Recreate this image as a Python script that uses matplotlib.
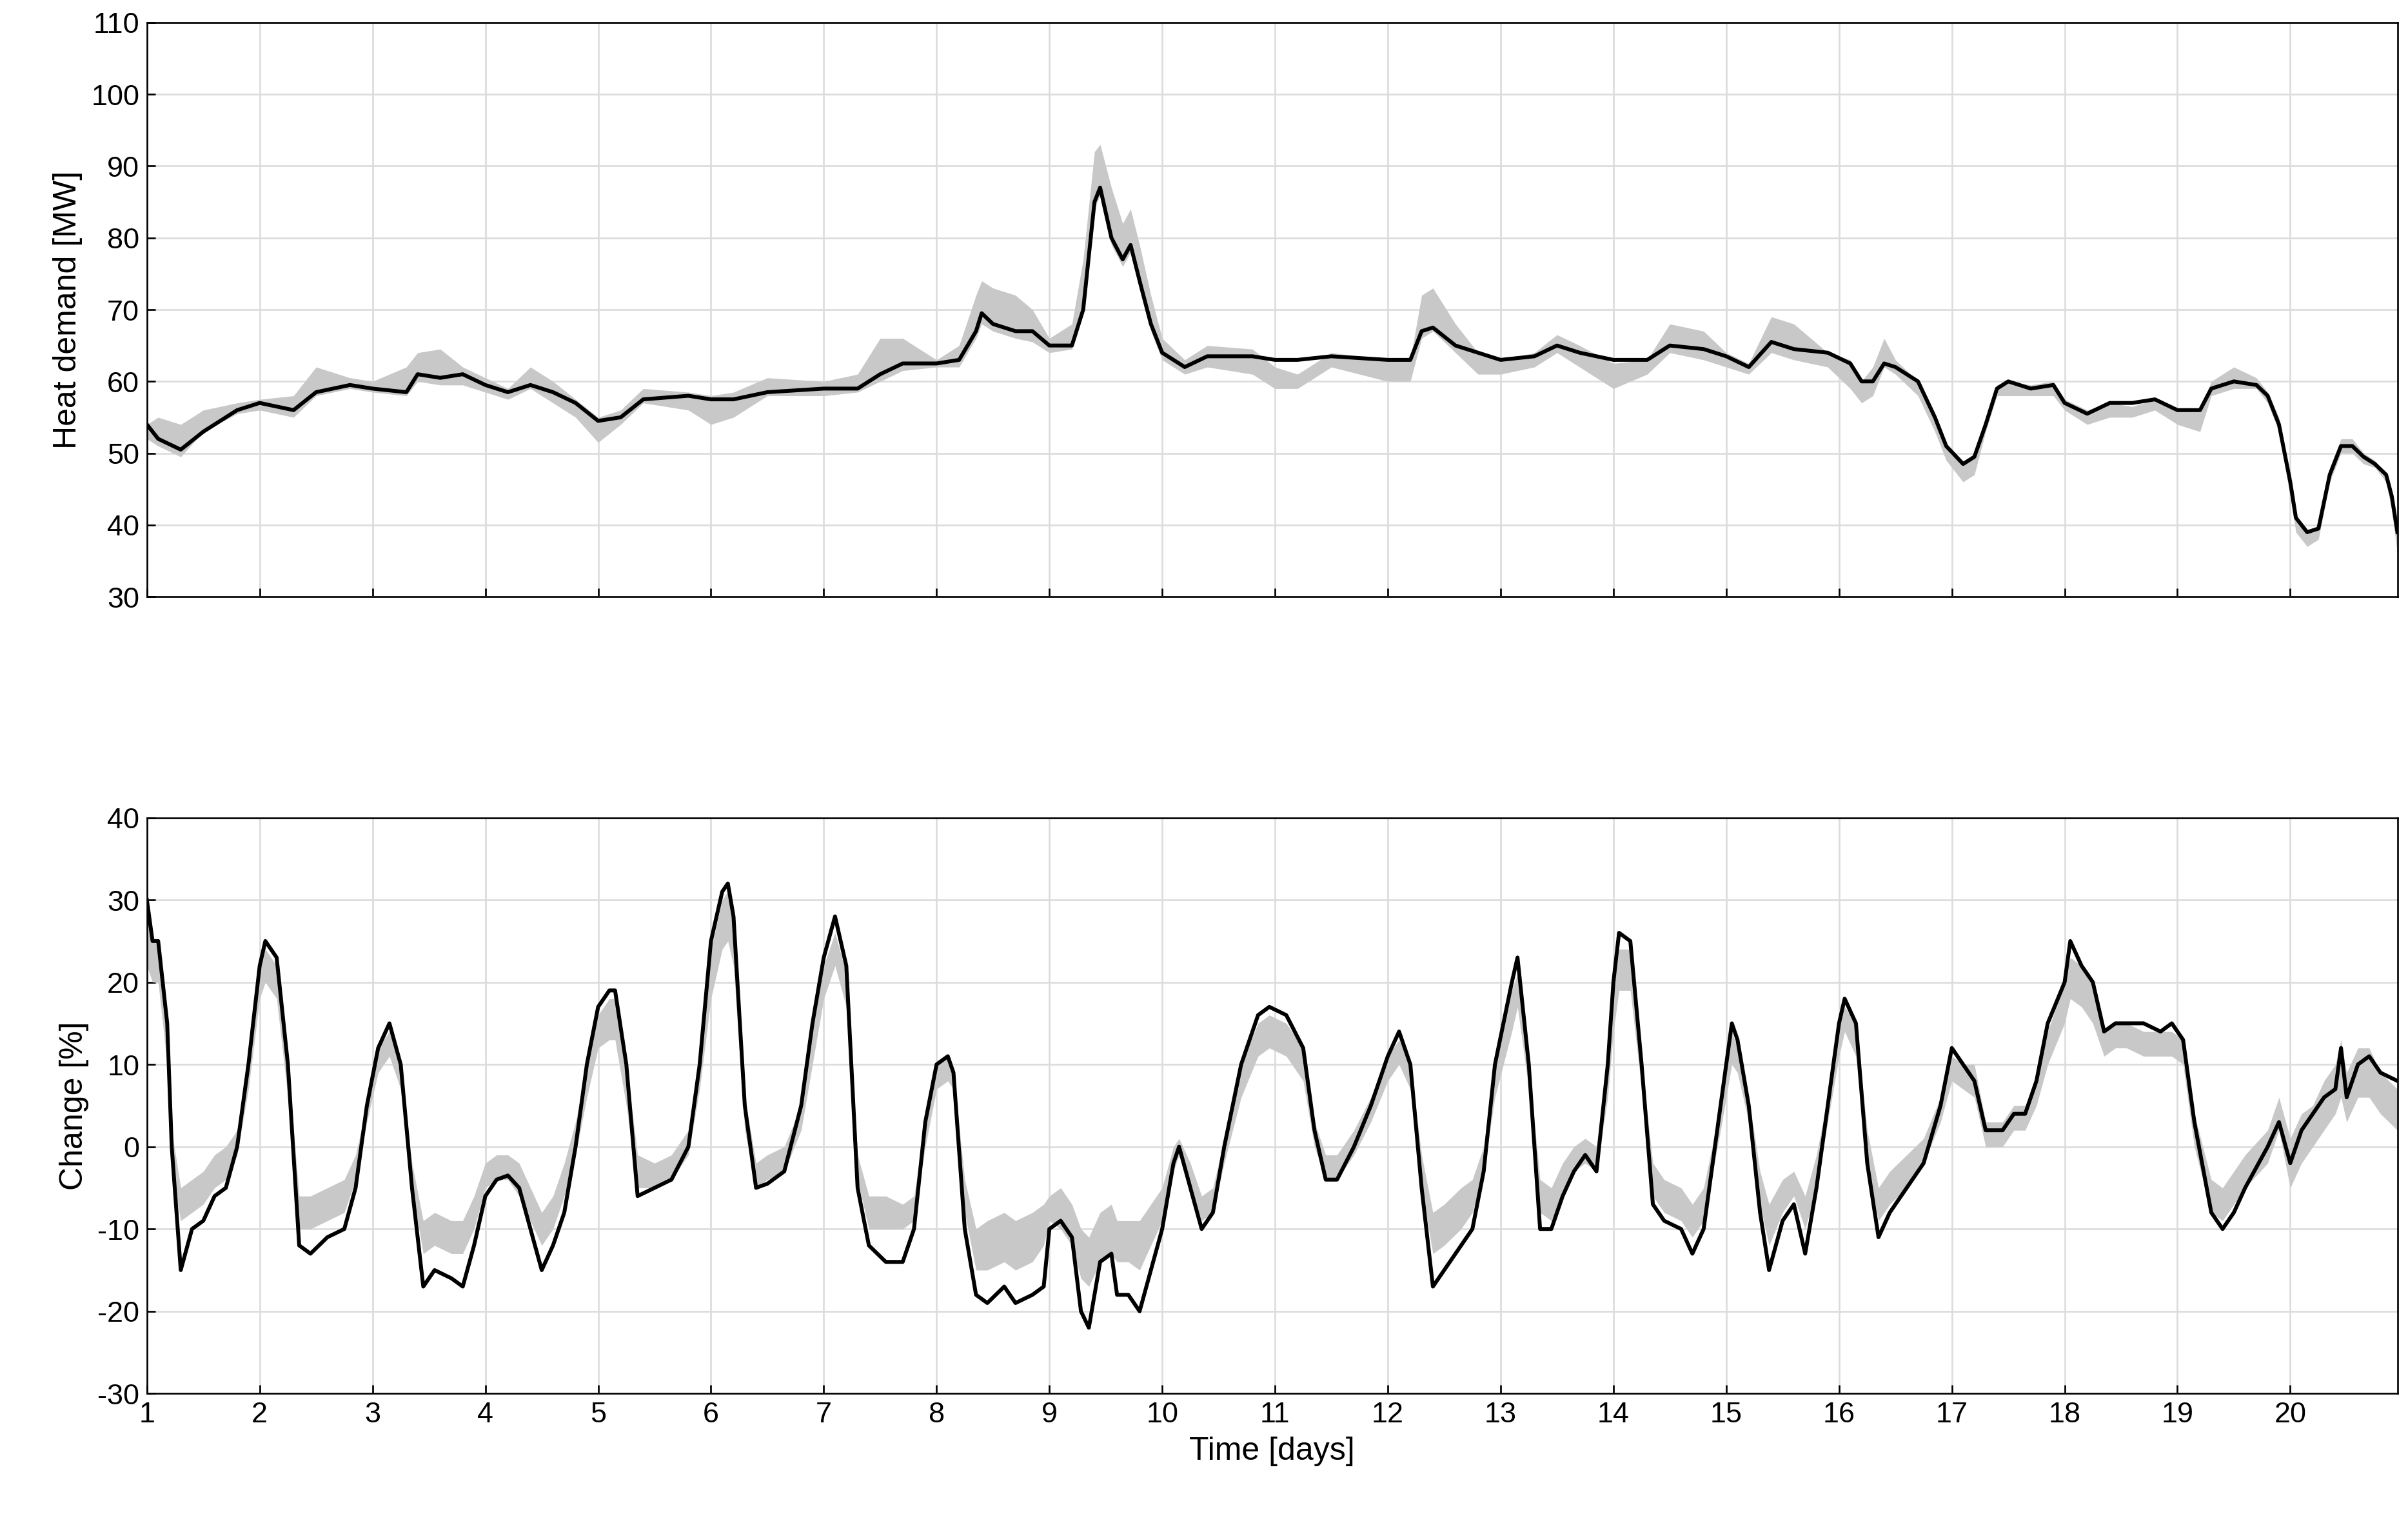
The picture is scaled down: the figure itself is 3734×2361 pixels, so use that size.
import numpy as np
import matplotlib
matplotlib.use("Agg")
import matplotlib.pyplot as plt

plt.rcParams['font.family'] = ['Liberation Sans', 'DejaVu Sans']
plt.rcParams['axes.unicode_minus'] = False

# ---- top panel: heat demand [MW] ----
t_top = [1.0, 1.1, 1.3, 1.5, 1.8, 2.0, 2.3, 2.5, 2.8, 3.0, 3.3, 3.4, 3.6, 3.8, 4.0, 4.2, 4.4, 4.6, 4.8, 5.0,
         5.2, 5.4, 5.8, 6.0, 6.2, 6.5, 7.0, 7.3, 7.5, 7.7, 8.0, 8.2, 8.35, 8.4, 8.5, 8.7, 8.85, 9.0, 9.2, 9.3,
         9.4, 9.45, 9.55, 9.65, 9.72, 9.8, 9.9, 10.0, 10.2, 10.4, 10.8, 11.0, 11.2, 11.5, 12.0, 12.2, 12.3, 12.4, 12.6, 12.8,
         13.0, 13.3, 13.5, 13.7, 14.0, 14.3, 14.5, 14.8, 15.0, 15.2, 15.4, 15.6, 15.9, 16.1, 16.2, 16.3, 16.4, 16.5, 16.7, 16.85,
         16.95, 17.1, 17.2, 17.3, 17.4, 17.5, 17.7, 17.9, 18.0, 18.2, 18.4, 18.6, 18.8, 19.0, 19.2, 19.3, 19.5, 19.7, 19.8, 19.9,
         20.0, 20.05, 20.15, 20.25, 20.35, 20.45, 20.55, 20.65, 20.75, 20.85, 20.9, 20.95]
heat = [54, 52, 50.5, 53, 56, 57, 56, 58.5, 59.5, 59, 58.5, 61, 60.5, 61, 59.5, 58.5, 59.5, 58.5, 57, 54.5,
        55, 57.5, 58, 57.5, 57.5, 58.5, 59, 59, 61, 62.5, 62.5, 63, 67, 69.5, 68, 67, 67, 65, 65, 70,
        85, 87, 80, 77, 79, 74, 68, 64, 62, 63.5, 63.5, 63, 63, 63.5, 63, 63, 67, 67.5, 65, 64,
        63, 63.5, 65, 64, 63, 63, 65, 64.5, 63.5, 62, 65.5, 64.5, 64, 62.5, 60, 60, 62.5, 62, 60, 55,
        51, 48.5, 49.5, 54, 59, 60, 59, 59.5, 57, 55.5, 57, 57, 57.5, 56, 56, 59, 60, 59.5, 58, 54,
        46, 41, 39, 39.5, 47, 51, 51, 49.5, 48.5, 47, 44, 39]
heat_lo = [52, 51, 49.5, 53, 55.5, 56, 55, 58, 59, 58.5, 58, 60, 59.5, 59.5, 58.5, 57.5, 59, 57, 55, 51.5,
           54, 57, 56, 54, 55, 58, 58, 58.5, 60, 61.5, 62, 62, 66, 68, 67, 66, 65.5, 64, 64.5, 70,
           84, 86, 79, 76, 78, 73, 67, 63, 61, 62, 61, 59, 59, 62, 60, 60, 66, 67, 64, 61,
           61, 62, 64, 62, 59, 61, 64, 63, 62, 61, 64, 63, 62, 59, 57, 58, 62, 61, 58, 53,
           49, 46, 47, 53, 58, 58, 58, 58, 56, 54, 55, 55, 56, 54, 53, 58, 59, 59, 57, 53,
           44, 39, 37, 38, 46, 50, 50, 48.5, 48, 46, 42, 36]
heat_hi = [54, 55, 54, 56, 57, 57.5, 58, 62, 60.5, 60, 62, 64, 64.5, 62, 60.5, 59, 62, 60, 57.5, 55,
           56, 59, 58.5, 58, 58.5, 60.5, 60, 61, 66, 66, 63, 65, 72, 74, 73, 72, 70, 66, 68, 77,
           92, 93, 87, 82, 84, 79, 72, 66, 63, 65, 64.5, 62, 61, 64, 63, 63, 72, 73, 68, 64,
           63, 64, 66.5, 65, 62.5, 63, 68, 67, 64, 62.5, 69, 68, 64, 63, 60, 62, 66, 63, 60, 55,
           51, 48.5, 49.5, 54.5, 59.5, 60, 59.5, 60, 57.5, 56, 57, 56.5, 57.5, 56, 56, 60, 62, 60.5, 58.5, 55,
           46, 41, 39, 40, 48, 52, 52, 50, 49, 47, 44, 39]

# ---- bottom panel: change [%] ----
t_bot = [1.0, 1.05, 1.1, 1.18, 1.22, 1.3, 1.4, 1.5, 1.6, 1.7, 1.8, 1.9, 2.0, 2.05, 2.15, 2.25, 2.35, 2.45, 2.6, 2.75,
         2.85, 2.95, 3.05, 3.15, 3.25, 3.35, 3.45, 3.55, 3.7, 3.8, 3.9, 4.0, 4.1, 4.2, 4.3, 4.4, 4.5, 4.6, 4.7, 4.8,
         4.9, 5.0, 5.1, 5.15, 5.25, 5.35, 5.5, 5.65, 5.8, 5.9, 6.0, 6.1, 6.15, 6.2, 6.3, 6.4, 6.5, 6.65, 6.8, 6.9,
         7.0, 7.1, 7.2, 7.3, 7.4, 7.55, 7.7, 7.8, 7.9, 8.0, 8.1, 8.15, 8.25, 8.35, 8.45, 8.6, 8.7, 8.85, 8.95, 9.0,
         9.1, 9.2, 9.28, 9.35, 9.45, 9.55, 9.6, 9.7, 9.8, 9.9, 10.0, 10.1, 10.15, 10.25, 10.35, 10.45, 10.55, 10.7, 10.85, 10.95,
         11.1, 11.25, 11.35, 11.45, 11.55, 11.7, 11.85, 12.0, 12.1, 12.2, 12.3, 12.4, 12.5, 12.65, 12.75, 12.85, 12.95, 13.1, 13.15, 13.25,
         13.35, 13.45, 13.55, 13.65, 13.75, 13.85, 13.95, 14.0, 14.05, 14.15, 14.25, 14.35, 14.45, 14.6, 14.7, 14.8, 14.95, 15.05, 15.1, 15.2,
         15.3, 15.38, 15.5, 15.6, 15.7, 15.8, 15.9, 16.0, 16.05, 16.15, 16.25, 16.35, 16.45, 16.6, 16.75, 16.9, 17.0, 17.1, 17.2, 17.3,
         17.45, 17.55, 17.65, 17.75, 17.85, 18.0, 18.05, 18.15, 18.25, 18.35, 18.45, 18.55, 18.7, 18.85, 18.95, 19.05, 19.15, 19.3, 19.4, 19.5,
         19.6, 19.8, 19.9, 20.0, 20.1, 20.2, 20.3, 20.4, 20.45, 20.5, 20.6, 20.7, 20.8, 20.95]
change = [30, 25, 25, 15, 0, -15, -10, -9, -6, -5, 0, 10, 22, 25, 23, 10, -12, -13, -11, -10,
          -5, 5, 12, 15, 10, -5, -17, -15, -16, -17, -12, -6, -4, -3.5, -5, -10, -15, -12, -8, 0,
          10, 17, 19, 19, 10, -6, -5, -4, 0, 10, 25, 31, 32, 28, 5, -5, -4.5, -3, 5, 15,
          23, 28, 22, -5, -12, -14, -14, -10, 3, 10, 11, 9, -10, -18, -19, -17, -19, -18, -17, -10,
          -9, -11, -20, -22, -14, -13, -18, -18, -20, -15, -10, -2, 0, -5, -10, -8, 0, 10, 16, 17,
          16, 12, 2, -4, -4, 0, 5, 11, 14, 10, -5, -17, -15, -12, -10, -3, 10, 20, 23, 10,
          -10, -10, -6, -3, -1, -3, 10, 20, 26, 25, 10, -7, -9, -10, -13, -10, 5, 15, 13, 5,
          -8, -15, -9, -7, -13, -5, 5, 15, 18, 15, -2, -11, -8, -5, -2, 5, 12, 10, 8, 2,
          2, 4, 4, 8, 15, 20, 25, 22, 20, 14, 15, 15, 15, 14, 15, 13, 3, -8, -10, -8,
          -5, 0, 3, -2, 2, 4, 6, 7, 12, 6, 10, 11, 9, 8]
change_lo = [22, 20, 20, 10, -3, -9, -8, -7, -5, -4, -1, 7, 18, 20, 18, 6, -10, -10, -9, -8,
             -4, 3, 9, 11, 7, -5, -13, -12, -13, -13, -10, -5, -4, -4, -6, -9, -12, -10, -6, -1,
             6, 12, 13, 13, 5, -5, -5, -4, -1, 7, 18, 24, 25, 22, 2, -5, -4, -3, 2, 10,
             18, 22, 17, -4, -10, -10, -10, -9, 0, 7, 8, 7, -8, -15, -15, -14, -15, -14, -12, -9,
             -10, -12, -16, -17, -14, -13, -14, -14, -15, -12, -9, -3, -1, -5, -9, -8, -2, 6, 11, 12,
             11, 8, 0, -4, -4, -1, 3, 8, 10, 7, -5, -13, -12, -10, -8, -3, 6, 14, 17, 7,
             -8, -9, -6, -3, -2, -3, 6, 14, 19, 19, 7, -6, -8, -9, -11, -9, 2, 10, 9, 3,
             -7, -12, -8, -6, -10, -5, 3, 11, 14, 11, -2, -9, -7, -5, -2, 3, 8, 7, 6, 0,
             0, 2, 2, 5, 10, 15, 18, 17, 15, 11, 12, 12, 11, 11, 11, 10, 0, -8, -9, -7,
             -5, -2, 2, -5, -2, 0, 2, 4, 6, 3, 6, 6, 4, 2]
change_hi = [30, 25, 25, 15, 2, -5, -4, -3, -1, 0, 2, 10, 22, 24, 22, 10, -6, -6, -5, -4,
             -1, 5, 12, 14, 10, -2, -9, -8, -9, -9, -6, -2, -1, -1, -2, -5, -8, -6, -2, 3,
             10, 16, 18, 18, 10, -1, -2, -1, 2, 10, 24, 30, 31, 27, 6, -2, -1, 0, 5, 14,
             22, 26, 21, -1, -6, -6, -7, -6, 3, 10, 11, 9, -4, -10, -9, -8, -9, -8, -7, -6,
             -5, -7, -10, -11, -8, -7, -9, -9, -9, -7, -5, 0, 1, -2, -6, -5, 1, 10, 15, 16,
             15, 12, 3, -1, -1, 2, 6, 11, 13, 10, -1, -8, -7, -5, -4, 0, 10, 19, 21, 10,
             -4, -5, -2, 0, 1, 0, 10, 19, 24, 24, 10, -2, -4, -5, -7, -5, 5, 14, 12, 6,
             -3, -7, -4, -3, -6, -1, 6, 15, 17, 15, 2, -5, -3, -1, 1, 6, 11, 10, 10, 3,
             3, 5, 5, 8, 14, 20, 23, 22, 20, 14, 15, 15, 14, 14, 14, 13, 4, -4, -5, -3,
             -1, 2, 6, 1, 4, 5, 8, 10, 13, 9, 12, 12, 9, 7]

GRAY = '#c8c8c8'

fig = plt.figure(figsize=(15.56, 9.84), dpi=240)
ax1 = fig.add_axes([0.061, 0.608, 0.9345, 0.377])
ax2 = fig.add_axes([0.061, 0.085, 0.9345, 0.378])

for ax, t, y, lo, hi in [(ax1, t_top, heat, heat_lo, heat_hi),
                         (ax2, t_bot, change, change_lo, change_hi)]:
    ax.fill_between(t, lo, hi, color=GRAY, lw=0, zorder=2)
    ax.plot(t, y, color='black', lw=1.8, zorder=3)
    ax.set_xlim(1, 20.95)
    ax.set_xticks(range(1, 21))
    ax.grid(True, color='#dcdcdc', lw=0.8, zorder=0)
    ax.tick_params(labelsize=13.5, direction='in', length=4, width=0.8)
    for s in ax.spines.values():
        s.set_linewidth(0.8)

ax1.set_ylim(30, 110)
ax1.set_yticks(range(30, 111, 10))
ax1.set_xticklabels([])
ax1.set_ylabel('Heat demand [MW]', fontsize=15)

ax2.set_ylim(-30, 40)
ax2.set_yticks(range(-30, 41, 10))
ax2.set_ylabel('Change [%]', fontsize=15)
ax2.set_xlabel('Time [days]', fontsize=15)

fig.savefig('out.png', dpi=240)
